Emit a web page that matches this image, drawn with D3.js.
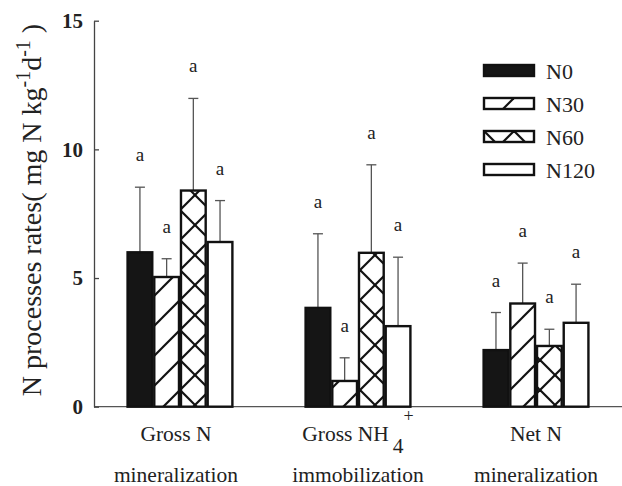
<!DOCTYPE html>
<html>
<head>
<meta charset="utf-8">
<script src="https://cdn.jsdelivr.net/npm/d3@7"></script>
<style>
  body { margin: 0; background: #fff; }
  text { font-family: "Liberation Serif", "Times New Roman", serif; fill: #222; }
</style>
</head>
<body>
<script>
var width = 622;
var height = 486;

// data
var groups = ["Gross N mineralization", "Gross NH4+ immobilization", "Net N mineralization"];
var series = ["N0", "N30", "N60", "N120"];
var meanN0 = [6.0, 3.84, 2.2];
var meanN30 = [5.04, 1.0, 4.01];
var meanN60 = [8.4, 5.98, 2.36];
var meanN120 = [6.4, 3.13, 3.26];
var sdN0 = [2.53, 2.88, 1.46];
var sdN30 = [0.71, 0.9, 1.57];
var sdN60 = [3.58, 3.42, 0.65];
var sdN120 = [1.61, 2.68, 1.5];
var letters = ["a", "a", "a", "a"];
var yTicks = [0, 5, 10, 15];

var means = [meanN0, meanN30, meanN60, meanN120];
var sds = [sdN0, sdN30, sdN60, sdN120];

var fills = ["#151515", "url(#hatch1)", "url(#hatch2)", "#fff"];

var svg = d3.select("body").append("svg")
    .attr("width", width)
    .attr("height", height);

// hatch patterns
var defs = svg.append("defs");
function makePattern(id, cross) {
    var p = defs.append("pattern")
        .attr("id", id)
        .attr("patternUnits", "userSpaceOnUse")
        .attr("width", 30)
        .attr("height", 30);
    p.append("rect").attr("width", 30).attr("height", 30).attr("fill", "#fff");
    var segs = [[-5, 5, 5, -5], [0, 30, 30, 0], [25, 35, 35, 25]];
    if (cross) {
        segs = segs.concat([[-5, 25, 5, 35], [0, 0, 30, 30], [25, -5, 35, 5]]);
    }
    segs.forEach(function(s) {
        p.append("line")
            .attr("x1", s[0]).attr("y1", s[1])
            .attr("x2", s[2]).attr("y2", s[3])
            .attr("stroke", "#111")
            .attr("stroke-width", 2.2);
    });
}
makePattern("hatch1", false);
makePattern("hatch2", true);

var axisX = 94;
var y = d3.scaleLinear().domain([0, 15]).range([406.7, 20.7]);

var x0 = d3.scaleBand()
    .domain(groups)
    .range([axisX, width])
    .paddingInner(0.4)
    .paddingOuter(0.183);

var x1 = d3.scaleBand()
    .domain(series)
    .range([0, x0.bandwidth()]);

// baseline
svg.append("line")
    .attr("x1", axisX).attr("x2", width)
    .attr("y1", y(0)).attr("y2", y(0))
    .attr("stroke", "#555")
    .attr("stroke-width", 1.3);

// y axis
var yAxis = svg.append("g")
    .attr("transform", "translate(" + axisX + ",0)")
    .call(d3.axisLeft(y).tickValues(yTicks).tickSizeInner(-5).tickSizeOuter(0).tickPadding(11));
yAxis.select(".domain").attr("stroke", "#444").attr("stroke-width", 1.3);
yAxis.selectAll(".tick line").attr("stroke", "#444").attr("stroke-width", 1.3);
yAxis.selectAll(".tick text")
    .style("font-family", "'Liberation Serif', 'Times New Roman', serif")
    .style("font-size", "21px")
    .style("font-weight", "bold")
    .attr("fill", "#222");

// bars, error bars, letters
series.forEach(function(s, si) {
    var g = svg.append("g");
    groups.forEach(function(grp, gi) {
        var v = means[si][gi];
        var e = sds[si][gi];
        var bx = x0(grp) + x1(s);
        var bw = x1.bandwidth();
        var cx = bx + bw / 2;
        g.append("line")
            .attr("x1", cx).attr("x2", cx)
            .attr("y1", y(v)).attr("y2", y(v + e))
            .attr("stroke", "#555").attr("stroke-width", 1.3);
        g.append("line")
            .attr("x1", cx - 5).attr("x2", cx + 5)
            .attr("y1", y(v + e)).attr("y2", y(v + e))
            .attr("stroke", "#555").attr("stroke-width", 1.3);
        g.append("rect")
            .attr("x", bx + 1)
            .attr("y", y(v))
            .attr("width", bw - 2)
            .attr("height", y(0) - y(v))
            .attr("fill", fills[si])
            .attr("stroke", "#111")
            .attr("stroke-width", 2.4);
        g.append("text")
            .attr("x", cx)
            .attr("y", y(v + e) - 26)
            .attr("text-anchor", "middle")
            .style("font-size", "19px")
            .text(letters[si]);
    });
});

// x labels
var line1 = ["Gross N", "Gross NH", "Net N"];
var line2 = ["mineralization", "immobilization", "mineralization"];
groups.forEach(function(grp, gi) {
    var cx = x0(grp) + x0.bandwidth() / 2;
    if (gi === 0) cx -= 4;
    var t = svg.append("text")
        .attr("x", cx)
        .attr("y", 441)
        .attr("text-anchor", "middle")
        .style("font-size", "21.5px");
    t.append("tspan").text(line1[gi]);
    if (gi === 1) {
        t.append("tspan").attr("dy", 12).attr("dx", 4).text("4");
        t.append("tspan").attr("dy", -31).attr("dx", 0).style("font-size", "18px").text("+");
    }
    svg.append("text")
        .attr("x", cx)
        .attr("y", 482)
        .attr("text-anchor", "middle")
        .style("font-size", "21.5px")
        .text(line2[gi]);
});

// y label
var yl = svg.append("text")
    .attr("transform", "translate(41,210) rotate(-90)")
    .attr("text-anchor", "middle")
    .style("font-size", "28px");
yl.append("tspan").text("N processes rates( mg N kg");
yl.append("tspan").attr("dy", -11).style("font-size", "20px").text("-1");
yl.append("tspan").attr("dy", 11).text("d");
yl.append("tspan").attr("dy", -11).style("font-size", "20px").text("-1");
yl.append("tspan").attr("dy", 11).text(" )");

// legend
var legend = svg.append("g").attr("transform", "translate(484,65)");
series.forEach(function(s, si) {
    var row = legend.append("g").attr("transform", "translate(0," + (si * 33) + ")");
    row.append("rect")
        .attr("x", 0).attr("y", 0)
        .attr("width", 50).attr("height", 11)
        .attr("fill", fills[si])
        .attr("stroke", "#111")
        .attr("stroke-width", 2.4);
    row.append("text")
        .attr("x", 62)
        .attr("y", 14)
        .style("font-size", "22px")
        .text(s);
});
</script>
</body>
</html>
